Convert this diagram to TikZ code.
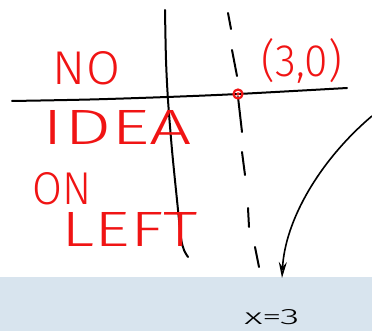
\documentclass[tikz,border=0pt]{standalone}
\usepackage{fontspec}
\usepackage{graphicx}
\usetikzlibrary{arrows.meta}
\IfFontExistsTF{Fira Sans Light}{\setsansfont{Fira Sans Light}}{\setsansfont{Fira Sans}}
\newcommand{\fitbox}[3]{\resizebox{#1pt}{#2pt}{\sffamily #3}}
\definecolor{bandblue}{RGB}{216,228,238}
\definecolor{penred}{RGB}{240,20,20}
\tikzset{
  pen/.style={line width=2pt, line cap=round, line join=round, black},
  dashpen/.style={line width=2pt, line cap=round, black},
  redtext/.style={text=penred, inner sep=0pt},
  blacktext/.style={text=black, inner sep=0pt},
  pointer/.style={line width=1.6pt, black, -{Stealth[open, length=16pt, width=8pt]}},
}
\begin{document}
\begin{tikzpicture}[x=1pt,y=-1pt]
\useasboundingbox (0,0) rectangle (372,331);
% bottom band
\fill[bandblue] (0,277) rectangle (372,331);
% horizontal axis
\draw[pen] plot[smooth] coordinates {(12,101) (90,99.5) (167,97) (238,94) (347,88)};
% vertical solid axis
\draw[pen] plot[smooth] coordinates {(165,10) (166,60) (168,100) (172,150) (177,200) (181,238) (184,250) (188,257)};
% dashed line x=3
\draw[dashpen] (228,13) -- (231,29);
\draw[dashpen] (232,50) -- (237,76);
\draw[dashpen] (238,97) -- (242,132);
\draw[dashpen] (242,152) -- (245,175);
\draw[dashpen] (248,208) -- (249,227);
\draw[dashpen] (255,247) -- (259,267);
% point (3,0)
\draw[penred, line width=2.2pt] (238,94) circle (4.5pt);
\fill[penred] (238,94) circle (1.8pt);
% texts
\node[redtext] (no) at (86.5,68.5) {\fitbox{67}{33}{NO}};
\node[redtext] (idea) at (117.5,127) {\fitbox{149}{34}{IDEA}};
\node[redtext] (on) at (62.5,189) {\fitbox{59}{32}{ON}};
\node[redtext] (left) at (130,229) {\fitbox{136}{34}{LEFT}};
\node[redtext] (pt) at (302,61) {\fitbox{80}{38}{(3,0)}};
\node[blacktext] (eq) at (272,317) {\fitbox{55}{15}{x=3}};
% arrow
\coordinate (arrowstart) at (372,116);
\coordinate (arrowend) at (282,278);
\draw[pointer] (arrowstart) .. controls (320,160) and (285,220) .. (arrowend);
\end{tikzpicture}
\end{document}
